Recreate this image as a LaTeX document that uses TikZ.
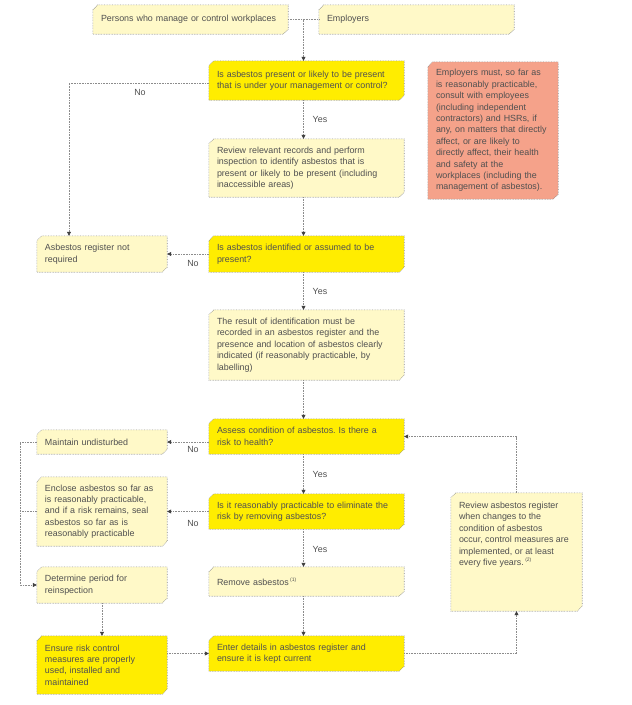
\documentclass[tikz,border=0pt]{standalone}
\usepackage{fontspec}
\setmainfont{Liberation Sans}
\frenchspacing
\usetikzlibrary{arrows.meta,calc}
\pgfdeclarelayer{bg}
\pgfsetlayers{bg,main}
\definecolor{lightyel}{HTML}{FFF9C8}
\definecolor{brightyel}{HTML}{FFED00}
\definecolor{salmon}{HTML}{F5A28A}
\definecolor{bordergray}{HTML}{8C8C8C}
\definecolor{txtgray}{HTML}{505050}
\newcommand\chamfbox[2]{%
  \filldraw[link, fill=#2] ([xshift=5pt]#1.north west) -- (#1.north east) --
    ([yshift=5pt]#1.south east) -- ([xshift=-5pt]#1.south east) --
    (#1.south west) -- ([yshift=-5pt]#1.north west) -- cycle;}
\begin{document}
\begin{tikzpicture}[x=1pt,y=-1pt,
  box/.style={rectangle, draw=none, text=txtgray, font=\fontsize{8.9}{11.4}\selectfont,
    align=left, inner xsep=8pt, inner ysep=3pt},
  wide/.style={minimum width=195pt, text width=179pt},
  narrow/.style={minimum width=130pt, text width=114pt},
  link/.style={draw=bordergray, densely dotted, line width=0.6pt},
  arr/.style={link, -{Triangle[length=4pt,width=4pt,color=black!75]}},
  lab/.style={text=txtgray, font=\fontsize{8.9}{10}\selectfont, inner sep=0pt}]
\useasboundingbox (0,0) rectangle (632,705);

\node[box, wide, minimum height=29pt] (persons) at (190.5,19.5) {Persons who manage or control workplaces};
\node[box, wide, minimum height=29pt] (employers) at (416.5,19.5) {Employers};
\node[box, wide, minimum height=39pt] (q1) at (306.5,80.5) {Is asbestos present or likely to be present\\that is under your management or control?};
\node[box, wide, minimum height=58pt] (review) at (306.5,168) {Review relevant records and perform\\inspection to identify asbestos that is\\present or likely to be present (including\\inaccessible areas)};
\node[box, narrow, minimum height=36pt] (notreq) at (102,254) {Asbestos register not\\required};
\node[box, wide, minimum height=36pt] (q2) at (306.5,254) {Is asbestos identified or assumed to be\\present?};
\node[box, wide, minimum height=70pt] (result) at (306.5,345) {The result of identification must be\\recorded in an asbestos register and the\\presence and location of asbestos clearly\\indicated (if reasonably practicable, by\\labelling)};
\node[box, wide, minimum height=35pt] (q3) at (306.5,436.5) {Assess condition of asbestos. Is there a\\risk to health?};
\node[box, narrow, minimum height=24pt] (maintain) at (102,442) {Maintain undisturbed};
\node[box, wide, minimum height=35pt] (q4) at (306.5,511.5) {Is it reasonably practicable to eliminate the\\risk by removing asbestos?};
\node[box, narrow, minimum height=69pt] (enclose) at (102,511.5) {Enclose asbestos so far as\\is reasonably practicable,\\and if a risk remains, seal\\asbestos so far as is\\reasonably practicable};
\node[box, narrow, minimum height=36pt] (determine) at (102,585) {Determine period for\\reinspection};
\node[box, wide, minimum height=29pt] (remove) at (306.5,581.5) {Remove asbestos\,\textsuperscript{\tiny(1)}};
\node[box, narrow, minimum height=58pt] (ensure) at (102,665) {Ensure risk control\\measures are properly\\used, installed and\\maintained};
\node[box, wide, minimum height=35pt] (enter) at (306.5,653.5) {Enter details in asbestos register and\\ensure it is kept current};
\node[box, narrow, minimum height=137pt] (consult) at (493,130.5) {Employers must, so far as\\is reasonably practicable,\\consult with employees\\(including independent\\contractors) and HSRs, if\\any, on matters that directly\\affect, or are likely to\\directly affect, their health\\and safety at the\\workplaces (including the\\management of asbestos).};
\node[box, minimum width=131pt, minimum height=118pt, inner ysep=8pt] (reviewreg) at (516.5,552) {\parbox[c][100pt][t]{115pt}{\raggedright Review asbestos register\\when changes to the\\condition of asbestos\\occur, control measures are\\implemented, or at least\\every five years.\,\textsuperscript{\tiny(2)}}};

\begin{pgfonlayer}{bg}
\foreach \n in {persons,employers,review,notreq,result,maintain,enclose,determine,remove,reviewreg}
  {\chamfbox{\n}{lightyel}}
\foreach \n in {q1,q2,q3,q4,ensure,enter}
  {\chamfbox{\n}{brightyel}}
\chamfbox{consult}{salmon}
\end{pgfonlayer}

\coordinate (j) at ($(persons.east)!0.5!(employers.west)$);
\draw[link] (persons.east) -- (employers.west);
\draw[arr] (j) -- (j |- q1.north);
\draw[arr] (q1.south -| j) -- (review.north -| j);
\draw[arr] (review.south -| j) -- (q2.north -| j);
\draw[arr] (q2.south -| j) -- (result.north -| j);
\draw[arr] (result.south -| j) -- (q3.north -| j);
\draw[arr] (q3.south -| j) -- (q4.north -| j);
\draw[arr] (q4.south -| j) -- (remove.north -| j);
\draw[arr] (remove.south -| j) -- (enter.north -| j);
\draw[arr] ([yshift=-2.5pt]q1.west) -| ([xshift=-33pt]notreq.north);
\draw[arr] (q2.west) -- (notreq.east);
\draw[arr] (q3.west |- maintain.east) -- (maintain.east);
\draw[arr] (q4.west) -- (enclose.east);
\draw[arr] (maintain.west) -- ++(-17,0) |- (determine.west);
\draw[link] (enclose.west) -- ++(-17,0);
\draw[arr] (determine.south) -- (ensure.north);
\draw[arr] (ensure.east |- enter.west) -- (enter.west);
\draw[arr] (enter.east) -| (reviewreg.south);
\draw[arr] (reviewreg.north) |- (q3.east);

\node[lab] (no1) at (140,92) {No};
\node[lab] (no2) at (193,263) {No};
\node[lab] (no3) at (193,449) {No};
\node[lab] (no4) at (193,523) {No};
\node[lab] (yes1) at (320,119) {Yes};
\node[lab] (yes2) at (320,291) {Yes};
\node[lab] (yes3) at (320,474) {Yes};
\node[lab] (yes4) at (320,549) {Yes};
\end{tikzpicture}
\end{document}
